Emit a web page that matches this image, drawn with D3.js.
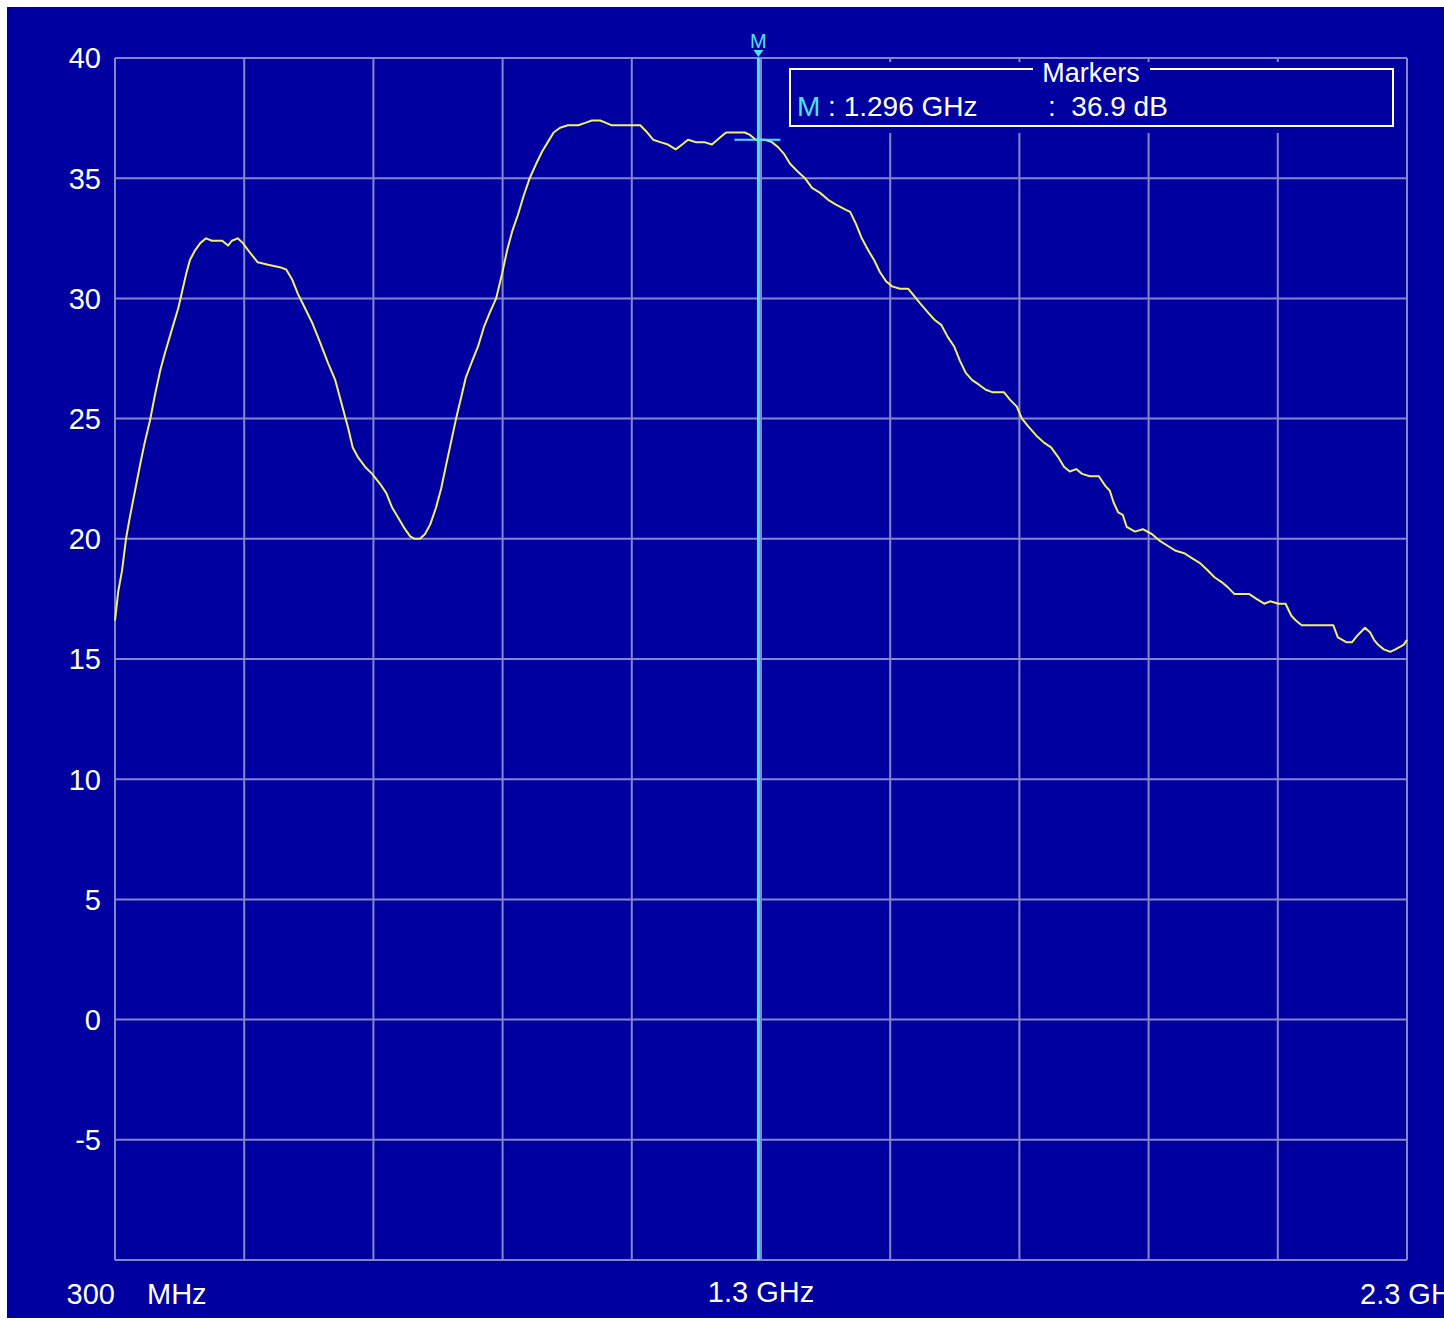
<!DOCTYPE html>
<html>
<head>
<meta charset="utf-8">
<script src="https://cdn.jsdelivr.net/npm/d3@7"></script>
<style>
    body { margin: 0; background: #ffffff; }
    svg { display: block; }
    text { font-family: "Liberation Sans", Arial, sans-serif; }
</style>
</head>
<body>
<svg id="chart" width="1444" height="1321"></svg>
<script>
// trace: frequency in MHz, level in dB
const freqMHz = [
    300, 305, 311, 317, 323, 331, 339, 346, 354, 362, 370, 377, 388, 398, 404, 410, 416, 424, 432, 441,
    450, 466, 475, 481, 490, 498, 509, 521, 537, 555, 565, 574, 583, 594, 605, 617, 630, 641, 651, 661,
    668, 676, 687, 698, 710, 720, 729, 738, 749, 757, 764, 772, 780, 788, 797, 805, 812, 820, 828, 836,
    843, 853, 862, 871, 880, 890, 899, 907, 915, 924, 933, 942, 952, 961, 970, 979, 989, 1001, 1017, 1028,
    1038, 1051, 1060, 1069, 1082, 1097, 1113, 1124, 1133, 1144, 1156, 1168, 1178, 1187, 1199, 1212, 1224, 1237, 1246, 1260,
    1275, 1283, 1292, 1306, 1317, 1326, 1336, 1345, 1356, 1368, 1379, 1391, 1404, 1416, 1430, 1438, 1447, 1456, 1466, 1475,
    1484, 1494, 1503, 1515, 1528, 1537, 1546, 1559, 1569, 1579, 1589, 1599, 1608, 1617, 1627, 1638, 1648, 1658, 1676, 1685,
    1696, 1704, 1713, 1726, 1738, 1749, 1760, 1769, 1778, 1788, 1797, 1809, 1823, 1833, 1840, 1846, 1853, 1860, 1866, 1879,
    1891, 1905, 1918, 1930, 1942, 1955, 1967, 1979, 1991, 2002, 2013, 2022, 2033, 2056, 2067, 2079, 2088, 2101, 2112, 2121,
    2128, 2137, 2150, 2186, 2193, 2206, 2215, 2224, 2235, 2243, 2249, 2255, 2264, 2274, 2282, 2289, 2295, 2300
]
const levelDb = [
    16.6, 17.8, 18.7, 20.0, 20.9, 22.0, 23.1, 24.0, 24.9, 26.0, 27.0, 27.7, 28.7, 29.6, 30.3, 31.0, 31.6, 32.0, 32.3, 32.5,
    32.4, 32.4, 32.2, 32.4, 32.5, 32.3, 31.9, 31.5, 31.4, 31.3, 31.2, 30.8, 30.2, 29.6, 29.0, 28.2, 27.3, 26.6, 25.6, 24.6,
    23.8, 23.4, 23.0, 22.7, 22.3, 21.9, 21.3, 20.9, 20.4, 20.1, 20.0, 20.0, 20.2, 20.6, 21.3, 22.1, 23.0, 24.0, 25.0, 25.9,
    26.7, 27.4, 28.0, 28.8, 29.4, 30.0, 31.0, 32.0, 32.8, 33.5, 34.3, 35.0, 35.6, 36.1, 36.5, 36.9, 37.1, 37.2, 37.2, 37.3,
    37.4, 37.4, 37.3, 37.2, 37.2, 37.2, 37.2, 36.9, 36.6, 36.5, 36.4, 36.2, 36.4, 36.6, 36.5, 36.5, 36.4, 36.7, 36.9, 36.9,
    36.9, 36.8, 36.6, 36.6, 36.5, 36.3, 36.0, 35.6, 35.3, 35.0, 34.6, 34.4, 34.1, 33.9, 33.7, 33.6, 33.1, 32.5, 32.0, 31.6,
    31.1, 30.7, 30.5, 30.4, 30.4, 30.1, 29.8, 29.4, 29.1, 28.9, 28.4, 28.0, 27.4, 26.9, 26.6, 26.4, 26.2, 26.1, 26.1, 25.8,
    25.5, 25.0, 24.7, 24.3, 24.0, 23.8, 23.4, 23.0, 22.8, 22.9, 22.7, 22.6, 22.6, 22.2, 22.0, 21.5, 21.1, 21.0, 20.5, 20.3,
    20.4, 20.2, 19.9, 19.7, 19.5, 19.4, 19.2, 19.0, 18.7, 18.4, 18.2, 18.0, 17.7, 17.7, 17.5, 17.3, 17.4, 17.3, 17.3, 16.8,
    16.6, 16.4, 16.4, 16.4, 15.9, 15.7, 15.7, 16.0, 16.3, 16.1, 15.8, 15.6, 15.4, 15.3, 15.4, 15.5, 15.6, 15.8
]

const yTicks = [40, 35, 30, 25, 20, 15, 10, 5, 0, -5, -10]
const xTicks = [300, 500, 700, 900, 1100, 1300, 1500, 1700, 1900, 2100, 2300]
const yTickLabels = ['40', '35', '30', '25', '20', '15', '10', '5', '0', '-5', '']

const markerFreq = 1296
const markerLabel = 'M'
const markerFreqText = '1.296 GHz'
const markerLevelText = '36.9 dB'

const BG = '#0000a0'
const GRID = '#8585cc'
const TRACE = '#f2f06a'
const MARKER = '#4fe3f5'

const svg = d3.select('#chart')
const width = +svg.attr('width')

const plotLeft = 115, plotRight = 1407, plotTop = 58, plotBottom = 1260

const x = d3.scaleLinear().domain([300, 2300]).range([plotLeft, plotRight])
const y = d3.scaleLinear().domain([-10, 40]).range([plotBottom, plotTop])

// screen background
svg.append('rect')
    .attr('x', 7).attr('y', 7)
    .attr('width', width - 7).attr('height', 1311)
    .attr('fill', BG)

// grid
const grid = svg.append('g')
    .attr('stroke', GRID)
    .attr('stroke-width', 2)

grid.selectAll('.hline')
    .data(yTicks)
    .join('line')
        .attr('class', 'hline')
        .attr('x1', plotLeft).attr('x2', plotRight)
        .attr('y1', d => y(d)).attr('y2', d => y(d))

grid.selectAll('.vline')
    .data(xTicks)
    .join('line')
        .attr('class', 'vline')
        .attr('x1', d => x(d)).attr('x2', d => x(d))
        .attr('y1', plotTop).attr('y2', plotBottom)

// y labels
svg.append('g')
    .selectAll('text')
    .data(yTicks)
    .join('text')
        .attr('x', plotLeft - 14)
        .attr('y', d => y(d))
        .attr('dy', '0.36em')
        .attr('text-anchor', 'end')
        .attr('fill', '#ffffff')
        .attr('font-size', 29)
        .text((d, i) => yTickLabels[i])

// x labels (start / centre / stop)
const xLabels = svg.append('g')
    .attr('fill', '#ffffff')
    .attr('font-size', 29)

xLabels.append('text')
    .attr('x', x(300)).attr('y', 1304)
    .attr('text-anchor', 'end')
    .text('300')
xLabels.append('text')
    .attr('x', x(300) + 32).attr('y', 1304)
    .text('MHz')
xLabels.append('text')
    .attr('x', x(1300)).attr('y', 1302)
    .attr('text-anchor', 'middle')
    .text('1.3 GHz')
xLabels.append('text')
    .attr('x', x(2300) - 47).attr('y', 1304)
    .text('2.3 GHz')

// trace
const trace = freqMHz.map((f, i) => ({ f: f, db: levelDb[i] }))

const line = d3.line()
    .x(d => x(d.f))
    .y(d => y(d.db))

svg.append('path')
    .datum(trace)
    .attr('d', line)
    .attr('fill', 'none')
    .attr('stroke', TRACE)
    .attr('stroke-width', 2)
    .attr('stroke-linejoin', 'round')

// marker box covers the grid behind it
const box = svg.append('g')
box.append('rect')
    .attr('x', 784).attr('y', 62)
    .attr('width', 616).attr('height', 71)
    .attr('fill', BG)
box.append('path')
    .attr('d', 'M1033,69 H790 V126 H1393 V69 H1150')
    .attr('fill', 'none')
    .attr('stroke', '#ffffff')
    .attr('stroke-width', 2)
box.append('text')
    .attr('x', 1091).attr('y', 82)
    .attr('text-anchor', 'middle')
    .attr('fill', '#ffffff')
    .attr('font-size', 27)
    .text('Markers')

const readout = box.append('text')
    .attr('x', 797).attr('y', 116)
    .attr('font-size', 28)
    .attr('fill', '#ffffff')
readout.append('tspan')
    .attr('fill', MARKER)
    .text(markerLabel)
readout.append('tspan')
    .text(' : ' + markerFreqText)

box.append('text')
    .attr('x', 1048).attr('y', 116)
    .attr('font-size', 28)
    .attr('fill', '#ffffff')
    .attr('xml:space', 'preserve')
    .text(':  ' + markerLevelText)

// marker line, level tick and flag
const mx = x(markerFreq)
const my = y(d3.scaleLinear().domain(freqMHz).range(levelDb)(markerFreq))

svg.append('line')
    .attr('x1', mx).attr('x2', mx)
    .attr('y1', plotTop).attr('y2', plotBottom)
    .attr('stroke', MARKER)
    .attr('stroke-width', 3)

svg.append('line')
    .attr('x1', mx - 24).attr('x2', mx + 22)
    .attr('y1', my).attr('y2', my)
    .attr('stroke', MARKER)
    .attr('stroke-width', 2)

svg.append('path')
    .attr('d', `M${mx - 5},${plotTop - 8} L${mx + 5},${plotTop - 8} L${mx},${plotTop - 1} Z`)
    .attr('fill', MARKER)

svg.append('text')
    .attr('x', mx).attr('y', plotTop - 10)
    .attr('text-anchor', 'middle')
    .attr('fill', MARKER)
    .attr('font-size', 20)
    .text(markerLabel)
</script>
</body>
</html>
